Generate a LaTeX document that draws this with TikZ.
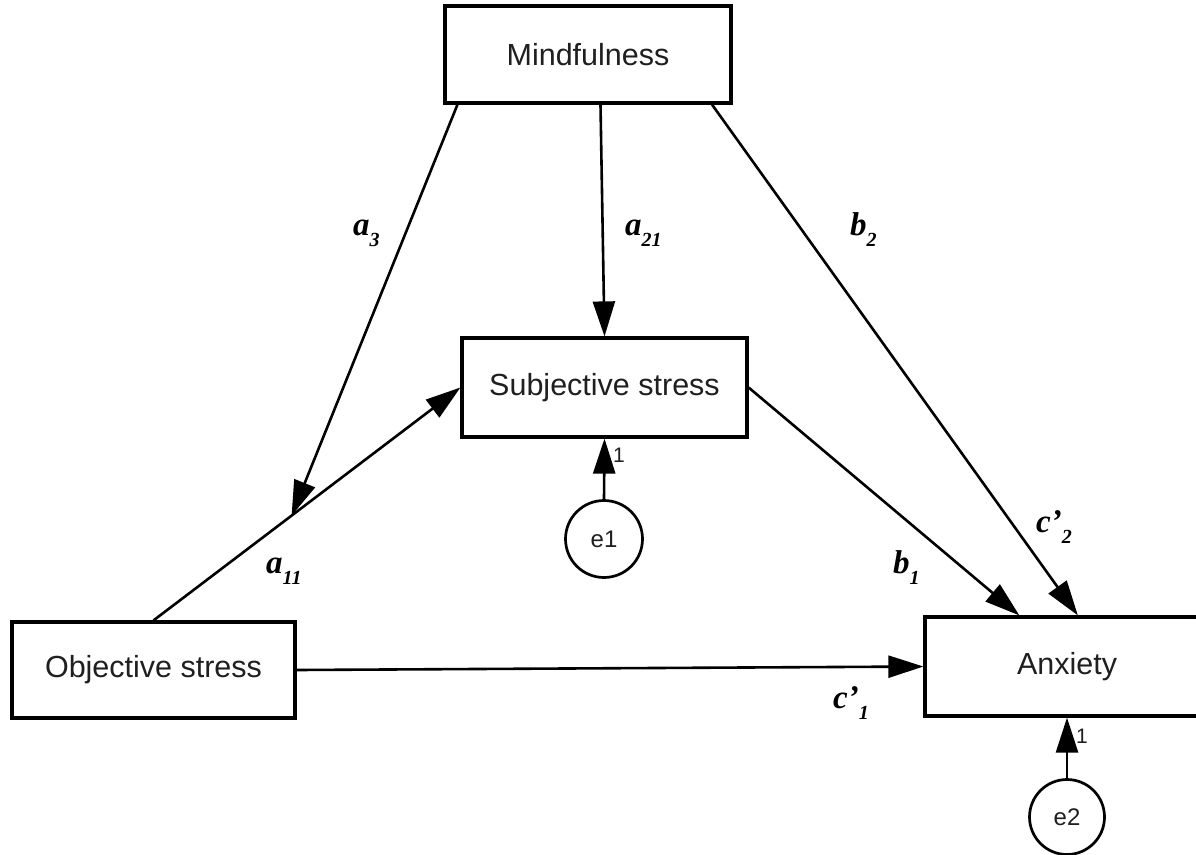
\documentclass[tikz,border=0pt]{standalone}
\usepackage{fontspec}
\setmainfont{Liberation Serif}
\newfontfamily\boxfont{Liberation Sans}
\usetikzlibrary{arrows.meta,calc}
\newcommand\lbl[2]{{\fontsize{33}{33}\selectfont\bfseries\itshape #1}\raisebox{-11pt}{\fontsize{20}{20}\selectfont\bfseries\itshape #2}}
\begin{document}
\begin{tikzpicture}[x=1pt,y=-1pt,
 var/.style={draw, line width=3.2pt, rectangle, inner sep=0pt, font=\boxfont\fontsize{30.5}{36}\selectfont, text=black!88},
 err/.style={draw, circle, line width=2.7pt, minimum size=77pt, inner sep=0pt, font=\boxfont\fontsize{24}{28}\selectfont, text=black!88},
 arr/.style={line width=2.6pt, -{Triangle[length=35pt,width=22pt]}},
 coef/.style={anchor=base west, inner sep=0pt},
 one/.style={font=\boxfont\fontsize{21}{24}\selectfont, inner sep=0pt, text=black!88}]
\useasboundingbox (0,0) rectangle (1196,854);
\fill[white] (0,0) rectangle (1196,854);

\node[var, minimum width=286pt, minimum height=97pt] (M) at (588,54.5) {Mindfulness};
\node[var, minimum width=285pt, minimum height=99pt] (S) at (604.5,387.5) {Subjective stress};
\node[var, minimum width=283pt, minimum height=96pt] (O) at (153.5,670) {Objective stress};
\node[var, minimum width=284pt, minimum height=99pt] (A) at (1067,666.5) {Anxiety};
\node[err] (E1) at (604,539) {e1};
\node[err, minimum size=75pt] (E2) at (1067,817) {e2};

\coordinate (P) at ($(O.north)!0.45!(S.west)$);

\draw[arr] (O.north) -- (S.west);
\draw[arr] (M.201) -- (P);
\draw[arr] (M.284) -- (S.north);
\draw[arr] (M.338) -- (A.78.6);
\draw[arr] (S.east) -- (A.133.5);
\draw[arr] (O.east) -- (A.west);
\draw[arr] (E1.north) -- (S.south);
\draw[arr] (E2.north) -- (A.south);

\node[one] (one1) at (619,455) {1};
\node[one] (one2) at (1082,736) {1};

\node[coef] (la3) at (353,235) {\lbl{a}{3}};
\node[coef] (la21) at (625,235) {\lbl{a}{21}};
\node[coef] (lb2) at (850,235) {\lbl{b}{2}};
\node[coef] (la11) at (266,573) {\lbl{a}{11}};
\node[coef] (lb1) at (893,573) {\lbl{b}{1}};
\node[coef] (lc1) at (833,708) {\lbl{c’}{1}};
\node[coef] (lc2) at (1036,532) {\lbl{c’}{2}};
\end{tikzpicture}
\end{document}
